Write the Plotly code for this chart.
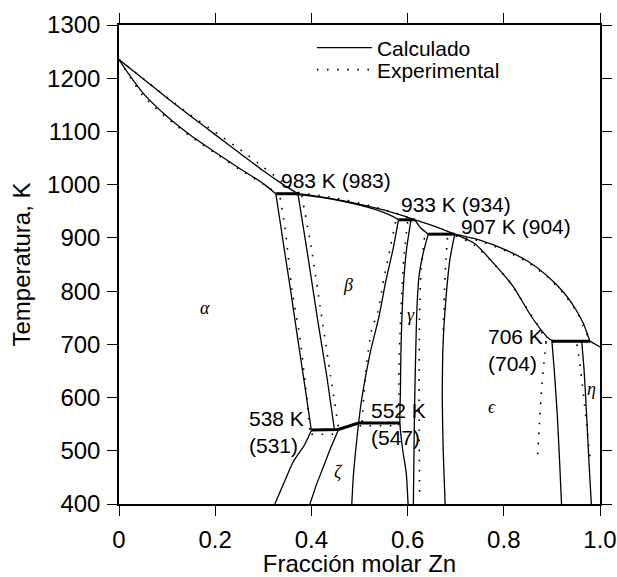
import plotly.graph_objects as go

# ---------------- data (x = fracción molar Zn, T in K) ----------------
# Calculated lines
liq_alpha_x = [0.0, 0.05, 0.10, 0.15, 0.20, 0.25, 0.30, 0.34, 0.372]
liq_alpha_T = [1235, 1199, 1163, 1128, 1094, 1060, 1026, 1001, 983]
sol_alpha_x = [0.0, 0.02, 0.05, 0.10, 0.15, 0.20, 0.25, 0.30, 0.326]
sol_alpha_T = [1235, 1208, 1172, 1128, 1092, 1061, 1031, 1002, 983]

liq_beta_x = [0.372, 0.42, 0.47, 0.52, 0.56, 0.59, 0.615]
liq_beta_T = [983, 977, 969, 959, 950, 942, 934]
sol_beta_x = [0.352, 0.42, 0.48, 0.52, 0.55, 0.57, 0.581]
sol_beta_T = [983, 976, 966, 957, 948, 940, 934]

liq_gamma_x = [0.615, 0.64, 0.665, 0.698]
liq_gamma_T = [934, 927, 919, 907]
sol_gamma_x = [0.615, 0.628, 0.643]
sol_gamma_T = [934, 918, 907]

liq_eps_x = [0.698, 0.75, 0.80, 0.85, 0.89, 0.925, 0.95, 0.965, 0.979]
liq_eps_T = [907, 896, 879, 856, 829, 797, 765, 740, 706]
liq_zn_x = [0.979, 1.0]
liq_zn_T = [706, 695]
sol_eps_x = [0.698, 0.74, 0.785, 0.82, 0.854, 0.875, 0.892, 0.903]
sol_eps_T = [907, 889, 846, 808, 757, 730, 712, 706]

alpha_hi_x = [0.326, 0.335, 0.345, 0.357, 0.37, 0.385, 0.40]
alpha_hi_T = [983, 930, 870, 800, 720, 630, 538]
alpha_lo_x = [0.40, 0.385, 0.362, 0.343, 0.324]
alpha_lo_T = [538, 510, 479, 440, 400]

beta_left_x = [0.372, 0.392, 0.413, 0.432, 0.448]
beta_left_T = [983, 870, 746, 640, 539]
beta_right_x = [0.581, 0.57, 0.555, 0.54, 0.522, 0.505, 0.498]
beta_right_T = [934, 880, 820, 750, 683, 600, 552]

zeta_left_x = [0.456, 0.44, 0.425, 0.41, 0.397]
zeta_left_T = [539, 505, 470, 435, 400]
zeta_right_x = [0.498, 0.492, 0.487, 0.484]
zeta_right_T = [552, 500, 450, 400]

gamma_left_x = [0.607, 0.598, 0.592, 0.588, 0.586, 0.585, 0.584, 0.59, 0.597, 0.601]
gamma_left_T = [934, 880, 820, 746, 680, 610, 552, 500, 460, 400]
gamma_right_x = [0.643, 0.632, 0.624, 0.62, 0.618, 0.616, 0.614, 0.612]
gamma_right_T = [907, 870, 830, 780, 727, 650, 550, 400]

eps_left_x = [0.698, 0.688, 0.681, 0.676, 0.673, 0.672, 0.674, 0.678]
eps_left_T = [907, 860, 800, 740, 680, 600, 500, 400]
eps_right_x = [0.90, 0.905, 0.911, 0.916, 0.92]
eps_right_T = [706, 650, 570, 480, 400]
eta_left_x = [0.962, 0.967, 0.972, 0.977, 0.982]
eta_left_T = [706, 650, 570, 480, 400]

# invariant (horizontal) lines
inv983_x = [0.326, 0.372]
inv983_T = [983, 983]
inv933_x = [0.581, 0.615]
inv933_T = [934, 934]
inv907_x = [0.643, 0.698]
inv907_T = [907, 907]
inv706_x = [0.90, 0.979]
inv706_T = [706, 706]
inv538_x = [0.40, 0.456, 0.498, 0.584]
inv538_T = [539, 540, 552, 552]

# Experimental lines
e_liq1_x = [0.0, 0.10, 0.15, 0.20, 0.25, 0.30, 0.34, 0.372]
e_liq1_T = [1235, 1164, 1130, 1099, 1067, 1033, 1005, 985]
e_sol1_x = [0.0, 0.05, 0.10, 0.15, 0.20, 0.25, 0.30, 0.33]
e_sol1_T = [1235, 1167, 1125, 1090, 1059, 1029, 1001, 983]
e_liq2_x = [0.372, 0.45, 0.52, 0.58, 0.615]
e_liq2_T = [985, 975, 961, 945, 934]
e_liq3_x = [0.70, 0.75, 0.80, 0.85, 0.89, 0.925, 0.955, 0.979]
e_liq3_T = [904, 894, 877, 854, 827, 795, 756, 704]
e_sol3_x = [0.70, 0.74, 0.77, 0.81, 0.85, 0.875, 0.888]
e_sol3_T = [904, 886, 860, 820, 765, 730, 704]
e_alpha_x = [0.335, 0.345, 0.36, 0.375, 0.388, 0.397]
e_alpha_T = [975, 920, 800, 720, 620, 535]
e_beta_l_x = [0.38, 0.40, 0.42, 0.44, 0.456]
e_beta_l_T = [980, 880, 760, 640, 545]
e_beta_r_x = [0.575, 0.563, 0.55, 0.538, 0.525, 0.512, 0.505]
e_beta_r_T = [930, 877, 820, 760, 727, 640, 547]
e_gamma_l_x = [0.60, 0.592, 0.586, 0.582, 0.582]
e_gamma_l_T = [930, 860, 760, 650, 547]
e_gamma_r_x = [0.635, 0.628, 0.625, 0.624, 0.624, 0.625]
e_gamma_r_T = [900, 840, 760, 650, 560, 420]
e_eps_l_x = [0.683, 0.679, 0.676, 0.674]
e_eps_l_T = [900, 850, 780, 720]
e_eps_r_x = [0.888, 0.884, 0.879, 0.874, 0.870]
e_eps_r_T = [704, 670, 620, 550, 487]
e_eta_x = [0.952, 0.958, 0.965, 0.972, 0.979]
e_eta_T = [700, 665, 610, 550, 489]
e_531_x = [0.40, 0.456]
e_531_T = [531, 531]
e_547_x = [0.50, 0.585]
e_547_T = [547, 547]

# Labels
inv_labels = ["983 K (983)", "933 K (934)", "907 K (904)"]
inv_lab_x = [0.452, 0.70, 0.826]
inv_lab_T = [1007, 963, 921]
inv2_labels = ["538 K<br>(531)", "552 K<br>(547)", "706 K<br>(704)"]
inv2_lab_x = [0.266, 0.52, 0.764]
inv2_lab_T = [536, 551, 690]
phase_labels = ["α", "β", "γ", "ζ", "ϵ", "η"]
phase_x = [0.179, 0.477, 0.608, 0.456, 0.775, 0.983]
phase_T = [768, 811, 755, 461, 583, 617]

x_ticks = [0, 0.2, 0.4, 0.6, 0.8, 1.0]
x_ticktext = ["0", "0.2", "0.4", "0.6", "0.8", "1.0"]
y_ticks = [400, 500, 600, 700, 800, 900, 1000, 1100, 1200, 1300]

FONT = "Liberation Sans, Arial, sans-serif"

fig = go.Figure()

smooth_curves = [
    (liq_alpha_x, liq_alpha_T), (sol_alpha_x, sol_alpha_T),
    (liq_beta_x, liq_beta_T), (sol_beta_x, sol_beta_T),
    (liq_gamma_x, liq_gamma_T), (sol_gamma_x, sol_gamma_T),
    (liq_eps_x, liq_eps_T), (sol_eps_x, sol_eps_T),
    (alpha_hi_x, alpha_hi_T), (alpha_lo_x, alpha_lo_T),
    (beta_left_x, beta_left_T), (beta_right_x, beta_right_T),
    (zeta_left_x, zeta_left_T), (zeta_right_x, zeta_right_T),
    (gamma_left_x, gamma_left_T), (gamma_right_x, gamma_right_T),
    (eps_left_x, eps_left_T), (eps_right_x, eps_right_T),
    (eta_left_x, eta_left_T), (liq_zn_x, liq_zn_T),
]
for i, (xs, ts) in enumerate(smooth_curves):
    fig.add_trace(go.Scatter(x=xs, y=ts, mode="lines",
                             line=dict(color="black", width=1.3, shape="spline", smoothing=0.6),
                             name="Calculado", legendgroup="calc", legend="legend",
                             showlegend=(i == 0), hoverinfo="skip"))

inv = [(inv983_x, inv983_T), (inv933_x, inv933_T), (inv907_x, inv907_T),
       (inv706_x, inv706_T), (inv538_x, inv538_T)]
for xs, ts in inv:
    fig.add_trace(go.Scatter(x=xs, y=ts, mode="lines",
                             line=dict(color="black", width=3),
                             legendgroup="calc", showlegend=False, hoverinfo="skip"))

exp = [
    (e_liq1_x, e_liq1_T), (e_sol1_x, e_sol1_T), (e_liq2_x, e_liq2_T),
    (e_liq3_x, e_liq3_T), (e_sol3_x, e_sol3_T), (e_alpha_x, e_alpha_T),
    (e_beta_l_x, e_beta_l_T), (e_beta_r_x, e_beta_r_T),
    (e_gamma_l_x, e_gamma_l_T), (e_gamma_r_x, e_gamma_r_T),
    (e_eps_l_x, e_eps_l_T), (e_eps_r_x, e_eps_r_T), (e_eta_x, e_eta_T),
    (e_531_x, e_531_T), (e_547_x, e_547_T),
]
for i, (xs, ts) in enumerate(exp):
    fig.add_trace(go.Scatter(x=xs, y=ts, mode="lines",
                             line=dict(color="black", width=1.6, dash="1.6px,8.5px",
                                       shape="spline", smoothing=0.6),
                             name="Experimental", legendgroup="exp", legend="legend2",
                             showlegend=(i == 0), hoverinfo="skip"))

for txt, xx, tt in zip(inv_labels, inv_lab_x, inv_lab_T):
    fig.add_annotation(x=xx, y=tt, text=txt, showarrow=False,
                       font=dict(family=FONT, size=21, color="black"))
for txt, xx, tt in zip(inv2_labels, inv2_lab_x, inv2_lab_T):
    fig.add_annotation(x=xx, y=tt, text=txt, showarrow=False, align="left",
                       xanchor="left",
                       font=dict(family=FONT, size=21, color="black"))
for txt, xx, tt in zip(phase_labels, phase_x, phase_T):
    fig.add_annotation(x=xx, y=tt, text="<i>" + txt + "</i>", showarrow=False,
                       font=dict(family="Liberation Serif, serif", size=18, color="black"))

axis_common = dict(showline=True, linecolor="black", linewidth=1.5, mirror="ticks",
                   ticks="outside", ticklen=10, tickwidth=1.3, tickcolor="black",
                   showgrid=False, zeroline=False, automargin=False,
                   tickfont=dict(family=FONT, size=24, color="black"))

legend_common = dict(xanchor="left", yanchor="top", bgcolor="rgba(0,0,0,0)",
                     borderwidth=0, font=dict(family=FONT, size=21, color="black"),
                     itemwidth=55)

fig.update_layout(
    width=617, height=577,
    margin=dict(l=119, r=17, t=25, b=73),
    paper_bgcolor="white", plot_bgcolor="white",
    xaxis=dict(range=[0, 1.0], tickvals=x_ticks, ticktext=x_ticktext,
               ticklabelstandoff=3,
               title=dict(text="Fracción molar Zn", standoff=17,
                          font=dict(family=FONT, size=24, color="black")),
               **axis_common),
    yaxis=dict(range=[400, 1300], tickvals=y_ticks, ticklabelstandoff=2,
               title=dict(text="Temperatura, K", standoff=10,
                          font=dict(family=FONT, size=24, color="black")),
               **axis_common),
    legend=dict(x=0.401, y=0.995, **legend_common),
    legend2=dict(x=0.401, y=0.949, **legend_common),
    showlegend=True,
)

fig.write_html("out.html")
